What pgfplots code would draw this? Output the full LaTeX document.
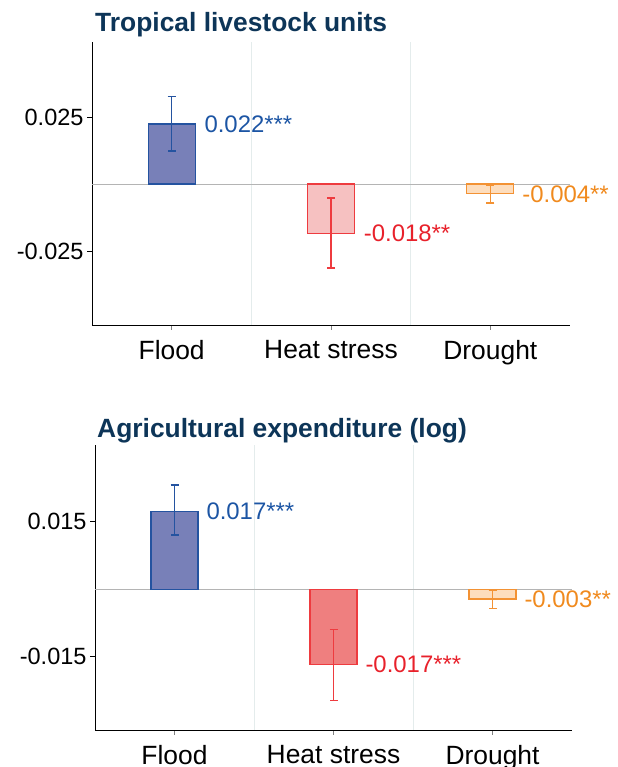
\documentclass[border=0pt]{standalone}
\usepackage{pgfplots}
\pgfplotsset{compat=1.18}
\usepackage{fontspec}
\setmainfont{Liberation Sans}
\definecolor{titlec}{HTML}{0D3558}
\definecolor{floodfill}{HTML}{7880B8}
\definecolor{flooddraw}{HTML}{2453A0}
\definecolor{floodtxt}{HTML}{1C55A4}
\definecolor{heatfillA}{HTML}{F6C1C1}
\definecolor{heatfillB}{HTML}{EF7F7F}
\definecolor{heatdraw}{HTML}{EE3B3F}
\definecolor{heattxt}{HTML}{E8212B}
\definecolor{drfill}{HTML}{FDDDBD}
\definecolor{drdraw}{HTML}{F39234}
\definecolor{drtxt}{HTML}{F08A1E}
\definecolor{gridc}{HTML}{E4ECEC}
\definecolor{zeroc}{HTML}{B4B4B4}
\newcommand{\bigf}{\fontsize{24}{28}\selectfont}
\pgfplotsset{
  panel/.style={
    scale only axis,
    axis x line*=bottom, axis y line*=left,
    axis line style={black, line width=0.8pt},
    xmin=-0.5, xmax=2.5,
    xtick={0,1,2},
    xticklabels={Flood,Heat stress,Drought},
    scaled y ticks=false,
    tick align=outside,
    major tick length=5bp,
    x tick style={draw=gray, line width=0.8pt},
    y tick style={draw=black, line width=0.8pt},
    y tick label style={font=\fontsize{23.6}{28}\selectfont, text=black},
    x tick label style={font=\fontsize{26.5}{30}\selectfont, text=black, yshift=-7bp},
    extra x ticks={0.5,1.5},
    extra x tick labels={},
    extra x tick style={grid=major, major grid style={gridc, line width=0.8pt}, major tick length=0pt},
    extra y ticks={0},
    extra y tick labels={},
    extra y tick style={grid=major, major grid style={zeroc, line width=0.8pt}, major tick length=0pt},
    clip=false,
  },
  bar/.style={ybar, bar width=47bp, bar shift=0pt, line width=1.1pt,
    /pgfplots/error bars/y dir=both, /pgfplots/error bars/y explicit,
    /pgfplots/error bars/error mark options={rotate=90, mark size=4bp, line width=1.2pt}},
}
\begin{document}
\begin{tikzpicture}[x=1bp,y=1bp]
\path[use as bounding box] (0,0) rectangle (618,767);
\node[anchor=base west, inner sep=0pt, text=titlec, font=\fontsize{26.5}{30}\selectfont\bfseries] at (95,735) {Tropical livestock units};
\node[anchor=base west, inner sep=0pt, text=titlec, font=\fontsize{26.5}{30}\selectfont\bfseries] at (97,329) {Agricultural expenditure (log)};
\begin{axis}[panel, at={(92bp,442bp)}, anchor=south west,
  width=478bp, height=283bp,
  ymin=-0.0526, ymax=0.0530,
  ytick={-0.025,0.025}, yticklabels={-0.025,0.025}]
\addplot[bar, fill=floodfill, draw=flooddraw, /pgfplots/error bars/error bar style={flooddraw, line width=1.3pt}] coordinates {(0,0.0224) += (0,0.0104) -= (0,0.0101)};
\addplot[bar, fill=heatfillA, draw=heatdraw, /pgfplots/error bars/error bar style={heatdraw, line width=1.3pt}] coordinates {(1,-0.0183) += (0,0.0131) -= (0,0.0130)};
\addplot[bar, fill=drfill, draw=drdraw, /pgfplots/error bars/error bar style={drdraw, line width=1.3pt}] coordinates {(2,-0.0037) += (0,0.0033) -= (0,0.0034)};
\node[anchor=west, inner sep=0pt, text=floodtxt, font=\bigf] at (axis cs:0.205,0.0224) {0.022***};
\node[anchor=west, inner sep=0pt, text=heattxt, font=\bigf] at (axis cs:1.205,-0.0183) {-0.018**};
\node[anchor=west, inner sep=0pt, text=drtxt, font=\bigf] at (axis cs:2.2,-0.0037) {-0.004**};
\end{axis}
\begin{axis}[panel, at={(95bp,37bp)}, anchor=south west,
  width=477bp, height=285bp,
  ymin=-0.0313, ymax=0.0320,
  ytick={-0.015,0.015}, yticklabels={-0.015,0.015}]
\addplot[bar, fill=floodfill, draw=flooddraw, /pgfplots/error bars/error bar style={flooddraw, line width=1.3pt}] coordinates {(0,0.0173) += (0,0.0058) -= (0,0.0053)};
\addplot[bar, fill=heatfillB, draw=heatdraw, /pgfplots/error bars/error bar style={heatdraw, line width=1.3pt}] coordinates {(1,-0.0167) += (0,0.0078) -= (0,0.0080)};
\addplot[bar, fill=drfill, draw=drdraw, /pgfplots/error bars/error bar style={drdraw, line width=1.3pt}] coordinates {(2,-0.0022) += (0,0.0018) -= (0,0.0022)};
\node[anchor=west, inner sep=0pt, text=floodtxt, font=\bigf] at (axis cs:0.2,0.0173) {0.017***};
\node[anchor=west, inner sep=0pt, text=heattxt, font=\bigf] at (axis cs:1.2,-0.0167) {-0.017***};
\node[anchor=west, inner sep=0pt, text=drtxt, font=\bigf] at (axis cs:2.2,-0.0022) {-0.003**};
\end{axis}
\end{tikzpicture}
\end{document}
